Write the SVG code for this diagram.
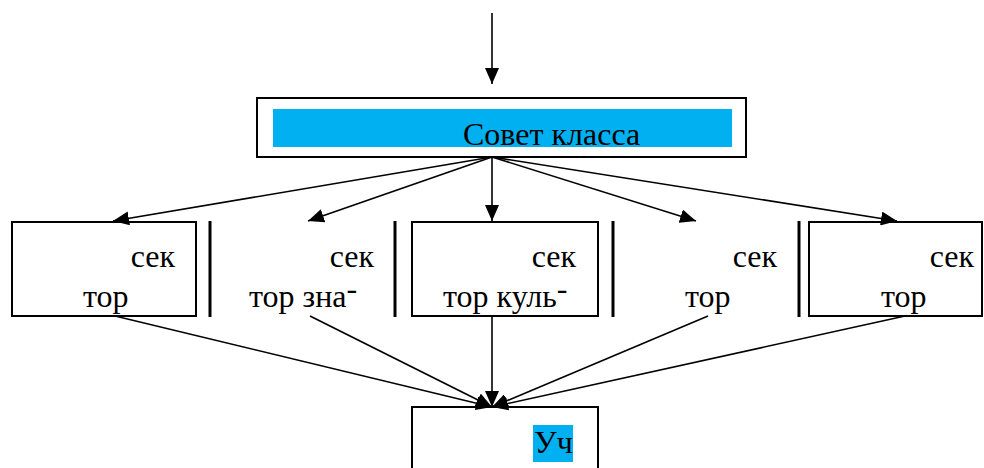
<svg xmlns="http://www.w3.org/2000/svg" width="984" height="468" viewBox="0 0 984 468">
<style>
.box{fill:#fff;stroke:#000;stroke-width:2}
.vl{stroke:#000;stroke-width:3}
.hl{fill:#00B0F0}
.t{font-family:'Liberation Serif','Times New Roman',serif;font-size:32px;fill:#000}
.c{stroke:#000;stroke-width:1.6;fill:none;marker-end:url(#ah)}
</style>
<defs>
<marker id="ah" markerUnits="userSpaceOnUse" markerWidth="16" markerHeight="14" refX="16" refY="7" orient="auto">
<path d="M0,0 L16,7 L0,14 z" fill="#000"/>
</marker>
</defs>
<rect width="984" height="468" fill="#fff"/>
<g id="sovet">
<rect class="box" x="257" y="98" width="489" height="59"/>
<rect class="hl" x="273" y="109" width="459" height="38"/>
<text class="t" x="463" y="145">Совет класса</text>
</g>
<g id="sector1">
<rect class="box" x="12" y="222" width="184" height="94"/>
<text class="t" x="175" y="267" text-anchor="end">сек</text>
<text class="t" x="83" y="307">тор</text>
</g>
<g id="sector2">
<line class="vl" x1="210" y1="221" x2="210" y2="317"/>
<line class="vl" x1="395" y1="221" x2="395" y2="317"/>
<text class="t" x="374" y="267" text-anchor="end">сек</text>
<text class="t" x="249" y="307">тор зна<tspan dy="-8">-</tspan></text>
</g>
<g id="sector3">
<rect class="box" x="412" y="222" width="186" height="94"/>
<text class="t" x="576" y="267" text-anchor="end">сек</text>
<text class="t" x="443" y="307">тор куль<tspan dy="-8">-</tspan></text>
</g>
<g id="sector4">
<line class="vl" x1="613" y1="221" x2="613" y2="317"/>
<line class="vl" x1="799" y1="221" x2="799" y2="317"/>
<text class="t" x="777" y="267" text-anchor="end">сек</text>
<text class="t" x="685" y="307">тор</text>
</g>
<g id="sector5">
<rect class="box" x="809" y="222" width="173" height="94"/>
<text class="t" x="974" y="267" text-anchor="end">сек</text>
<text class="t" x="881" y="307">тор</text>
</g>
<g id="uch">
<rect class="box" x="412" y="407" width="186" height="70"/>
<rect class="hl" x="533" y="425" width="40" height="37"/>
<text class="t" x="534" y="453">Уч</text>
</g>
<g id="connectors">
<line class="c" x1="492" y1="13" x2="492" y2="84"/>
<line class="c" x1="492" y1="157" x2="113" y2="221"/>
<line class="c" x1="492" y1="157" x2="308" y2="221"/>
<line class="c" x1="492" y1="157" x2="492" y2="221"/>
<line class="c" x1="492" y1="157" x2="696" y2="221"/>
<line class="c" x1="492" y1="157" x2="897" y2="221"/>
<line class="c" x1="115" y1="316" x2="492" y2="407"/>
<line class="c" x1="310" y1="316" x2="492" y2="407"/>
<line class="c" x1="492" y1="316" x2="492" y2="407"/>
<line class="c" x1="708" y1="316" x2="492" y2="407"/>
<line class="c" x1="905" y1="316" x2="492" y2="407"/>
</g>
</svg>
